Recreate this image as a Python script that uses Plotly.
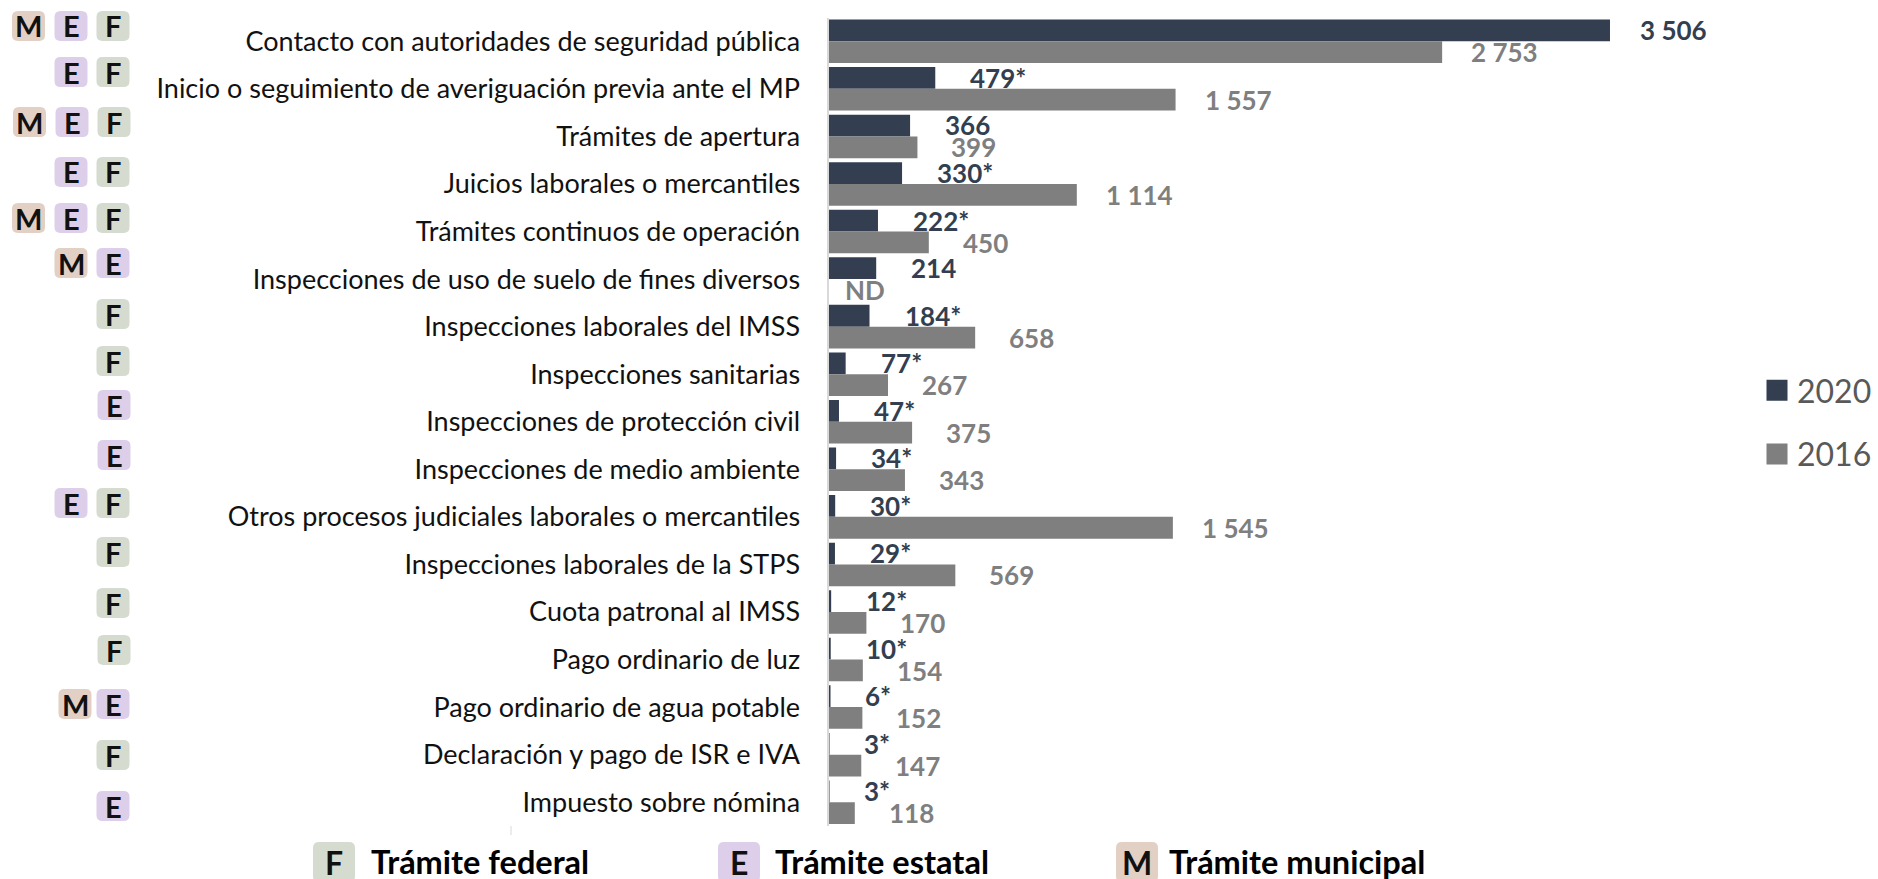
import plotly.graph_objects as go

W, H = 1878, 879
categories = ["Contacto con autoridades de seguridad pública",
 "Inicio o seguimiento de averiguación previa ante el MP",
 "Trámites de apertura","Juicios laborales o mercantiles",
 "Trámites continuos de operación","Inspecciones de uso de suelo de fines diversos",
 "Inspecciones laborales del IMSS","Inspecciones sanitarias",
 "Inspecciones de protección civil","Inspecciones de medio ambiente",
 "Otros procesos judiciales laborales o mercantiles","Inspecciones laborales de la STPS",
 "Cuota patronal al IMSS","Pago ordinario de luz","Pago ordinario de agua potable",
 "Declaración y pago de ISR e IVA","Impuesto sobre nómina"]
v2020 = [3506,479,366,330,222,214,184,77,47,34,30,29,12,10,6,3,3]
v2016 = [2753,1557,399,1114,450,None,658,267,375,343,1545,569,170,154,152,147,118]
l2020 = ["3 506","479*","366","330*","222*","214","184*","77*","47*","34*","30*","29*","12*","10*","6*","3*","3*"]
l2016 = ["2 753","1 557","399","1 114","450","ND","658","267","375","343","1 545","569","170","154","152","147","118"]
levels = ["MEF","EF","MEF","EF","MEF","ME","F","F","E","E","EF","F","F","F","ME","F","E"]
key_names = ["Trámite federal","Trámite estatal","Trámite municipal"]
key_letters = ["F","E","M"]

badge_y = [26,72,122,172,218,263,314,361,405,455,503,552,603,650,704,755,806]
badge_dx = {2:1, 8:1, 9:1, 13:1}
slot_x = [113,71,28.5]
key_x = [334,739,1137]
key_text_x = [369,773,1167]
C20, C16 = "#333F50", "#7F7F7F"
BADGE = {"F":"#D5DCCF","E":"#DDCFE9","M":"#E3D0C4"}
FONT = "Lato"

X0, X1 = 828.5, 1700
SCALE = 0.2229
Y0, Y1 = 17.5, 826

fig = go.Figure()
fig.add_bar(y=categories, x=v2020, orientation="h", marker=dict(color=C20, line_width=0), showlegend=False)
fig.add_bar(y=categories, x=v2016, orientation="h", marker=dict(color=C16, line_width=0), showlegend=False)
for name, c in (("2020", C20), ("2016", C16)):
    fig.add_scatter(x=[None], y=[None], mode="markers", name=name, legendgroup=name,
                    marker=dict(symbol="square", size=16, color=c, line=dict(width=5, color=c)))

def rr(cx, cy, w, h, r=6):
    x0, x1, y0, y1 = cx-w/2, cx+w/2, cy-h/2, cy+h/2
    pts = [(x0+r,y0),(x1-r,y0),(x1,y0,x1,y0+r),(x1,y1-r),(x1,y1,x1-r,y1),(x0+r,y1),(x0,y1,x0,y1-r),(x0,y0+r),(x0,y0,x0+r,y0)]
    d = ""
    for i, p in enumerate(pts):
        if len(p) == 2:
            d += ("M" if i == 0 else "L") + f"{p[0]/W:.5f},{1-p[1]/H:.5f} "
        else:
            d += f"Q{p[0]/W:.5f},{1-p[1]/H:.5f} {p[2]/W:.5f},{1-p[3]/H:.5f} "
    return d + "Z"

shapes, annots = [], []
def badge(letter, cx, cy, w=33, h=30, size=29):
    shapes.append(dict(type="path", xref="paper", yref="paper", path=rr(cx, cy, w, h),
                       fillcolor=BADGE[letter], line=dict(width=0), layer="below"))
    annots.append(dict(text=f"<b>{letter}</b>", x=cx/W, y=1-cy/H, xref="paper", yref="paper", showarrow=False,
                       font=dict(family=FONT, size=size, color="#111111"), xanchor="center", yanchor="middle"))

for i, (lv, yy) in enumerate(zip(levels, badge_y)):
    for k, ch in enumerate(reversed(lv)):
        cx = slot_x[k] + badge_dx.get(i, 0)
        if i == 14 and ch == "M":
            cx = 75
        badge(ch, cx, yy)

for cat, a, b, la, lb in zip(categories, v2020, v2016, l2020, l2016):
    annots.append(dict(text=f"<b>{la}</b>", x=a, y=cat, xref="x", yref="y", xanchor="left", yanchor="middle",
                       xshift=28 if a > 1000 else 33, yshift=11, showarrow=False, font=dict(family=FONT, size=26, color=C20)))
    dx = 14 if b is None else (27 if b > 1000 else 32)
    annots.append(dict(text=f"<b>{lb}</b>", x=b or 0, y=cat, xref="x", yref="y", xanchor="left", yanchor="middle",
                       xshift=dx, yshift=-11, showarrow=False, font=dict(family=FONT, size=26, color=C16)))

for n, l, kx, tx in zip(key_names, key_letters, key_x, key_text_x):
    badge(l, kx, 862, w=42, h=40, size=32)
    annots.append(dict(text=f"<b>{n}</b>", x=tx/W, y=1-861/H, xref="paper", yref="paper", xanchor="left", yanchor="middle",
                       showarrow=False, font=dict(family=FONT, size=32.5, color="#000000")))

shapes.append(dict(type="line", xref="paper", yref="paper", x0=511/W, x1=511/W, y0=1-826/H, y1=1-835/H,
                   line=dict(color="#D9D9D9", width=1)))

fig.update_layout(
    width=W, height=H, margin=dict(l=0, r=0, t=0, b=0), paper_bgcolor="white", plot_bgcolor="white",
    barmode="group", bargap=0.085, bargroupgap=0, shapes=shapes, annotations=annots,
    font=dict(family=FONT),
    legend=dict(x=1-1/W, xanchor="right", y=1-363/H, yanchor="top", font=dict(family=FONT, size=32, color="#595959"),
                tracegroupgap=19, bgcolor="rgba(0,0,0,0)", itemwidth=30),
    xaxis=dict(domain=[X0/W, X1/W], range=[0, (X1-X0)/SCALE], visible=False),
    yaxis=dict(domain=[1-Y1/H, 1-Y0/H], range=[16.5, -0.5], showgrid=False, zeroline=False,
               showline=True, linecolor="#D9D9D9", linewidth=2, ticks="", ticklabelstandoff=21,
               tickfont=dict(family=FONT, size=27, color="#111111"), anchor="x", type="category",
               categoryorder="array", categoryarray=categories),
)
fig.write_html("out.html", config={"displayModeBar": False},
               post_script="document.body.style.margin='0';document.body.style.overflow='hidden';")
